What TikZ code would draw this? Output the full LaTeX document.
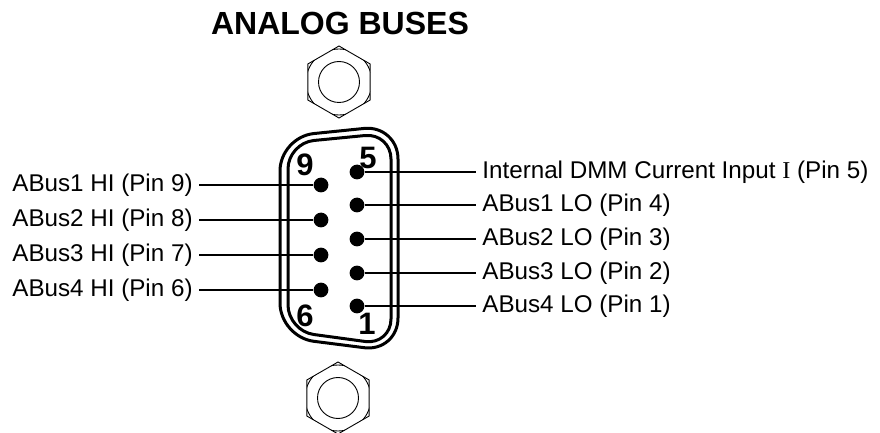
\documentclass[tikz,border=0pt]{standalone}
\usepackage{fontspec}
\setmainfont{Liberation Sans}
\newfontfamily\serifface{Liberation Serif}

\begin{document}
\begin{tikzpicture}[x=0.5pt, y=-0.5pt,
    contact/.style={circle, fill=black, minimum size=7.4pt, inner sep=0pt},
    leftlabel/.style={anchor=east, inner xsep=3pt, inner ysep=0pt,
        font=\fontsize{12.1}{14}\selectfont},
    rightlabel/.style={anchor=west, inner xsep=3pt, inner ysep=0pt,
        font=\fontsize{12.1}{14}\selectfont},
    pinnum/.style={inner sep=0pt, font=\fontsize{15.5}{18}\selectfont\bfseries},
    wire/.style={line width=1.1pt, -},
    shell/.style={line width=1.5pt},
    nut/.style={line width=0.45pt}
]
    \useasboundingbox (0,0) rectangle (880,433);

    \node[anchor=base, font=\fontsize{16}{19}\selectfont\bfseries] (title) at (340,35) {ANALOG BUSES};

    % mounting nuts
    \begin{scope}[shift={(339,82)}]
        \draw[nut] (30:36) -- (90:36) -- (150:36) -- (210:36) -- (270:36) -- (330:36) -- cycle;
        \begin{scope}
            \clip (30:36) -- (90:36) -- (150:36) -- (210:36) -- (270:36) -- (330:36) -- cycle;
            \draw[nut] (0,0) circle (16.5pt);
        \end{scope}
        \draw[nut] (0,0) circle (10.25pt);
    \end{scope}
    \begin{scope}[shift={(338,398)}]
        \draw[nut] (30:36) -- (90:36) -- (150:36) -- (210:36) -- (270:36) -- (330:36) -- cycle;
        \begin{scope}
            \clip (30:36) -- (90:36) -- (150:36) -- (210:36) -- (270:36) -- (330:36) -- cycle;
            \draw[nut] (0,0) circle (16.5pt);
        \end{scope}
        \draw[nut] (0,0) circle (10.25pt);
    \end{scope}

    % connector shell
    \draw[shell, rounded corners=17pt] (280,240) -- (280,137) -- (398,125) -- (398,352) -- (280,337) -- cycle;
    \draw[shell, rounded corners=13pt] (288,240) -- (288,143) -- (391,133) -- (391,345) -- (288,331) -- cycle;

    \node[pinnum] (n9) at (305,165) {9};
    \node[pinnum] (n5) at (368,157.5) {5};
    \node[pinnum] (n6) at (305,316) {6};
    \node[pinnum] (n1) at (367,324) {1};

    % pins
    \node[contact] (p9) at (321,185) {};
    \node[contact] (p8) at (321,220) {};
    \node[contact] (p7) at (321,255) {};
    \node[contact] (p6) at (321,290) {};
    \node[contact] (p5) at (357,172) {};
    \node[contact] (p4) at (357,205) {};
    \node[contact] (p3) at (357,239) {};
    \node[contact] (p2) at (357,273) {};
    \node[contact] (p1) at (357,306) {};

    % labels
    \node[leftlabel] (l9) at (199,185) {ABus1 HI (Pin 9)};
    \node[leftlabel] (l8) at (199,220) {ABus2 HI (Pin 8)};
    \node[leftlabel] (l7) at (199,255) {ABus3 HI (Pin 7)};
    \node[leftlabel] (l6) at (199,290) {ABus4 HI (Pin 6)};
    \node[rightlabel] (l5) at (476,172) {Internal DMM Current Input {\serifface I} (Pin 5)};
    \node[rightlabel] (l4) at (476,205) {ABus1 LO (Pin 4)};
    \node[rightlabel] (l3) at (476,239) {ABus2 LO (Pin 3)};
    \node[rightlabel] (l2) at (476,273) {ABus3 LO (Pin 2)};
    \node[rightlabel] (l1) at (476,306) {ABus4 LO (Pin 1)};

    \draw[wire] (l9) -- (p9);
    \draw[wire] (l8) -- (p8);
    \draw[wire] (l7) -- (p7);
    \draw[wire] (l6) -- (p6);
    \draw[wire] (p5) -- (l5);
    \draw[wire] (p4) -- (l4);
    \draw[wire] (p3) -- (l3);
    \draw[wire] (p2) -- (l2);
    \draw[wire] (p1) -- (l1);
\end{tikzpicture}
\end{document}
